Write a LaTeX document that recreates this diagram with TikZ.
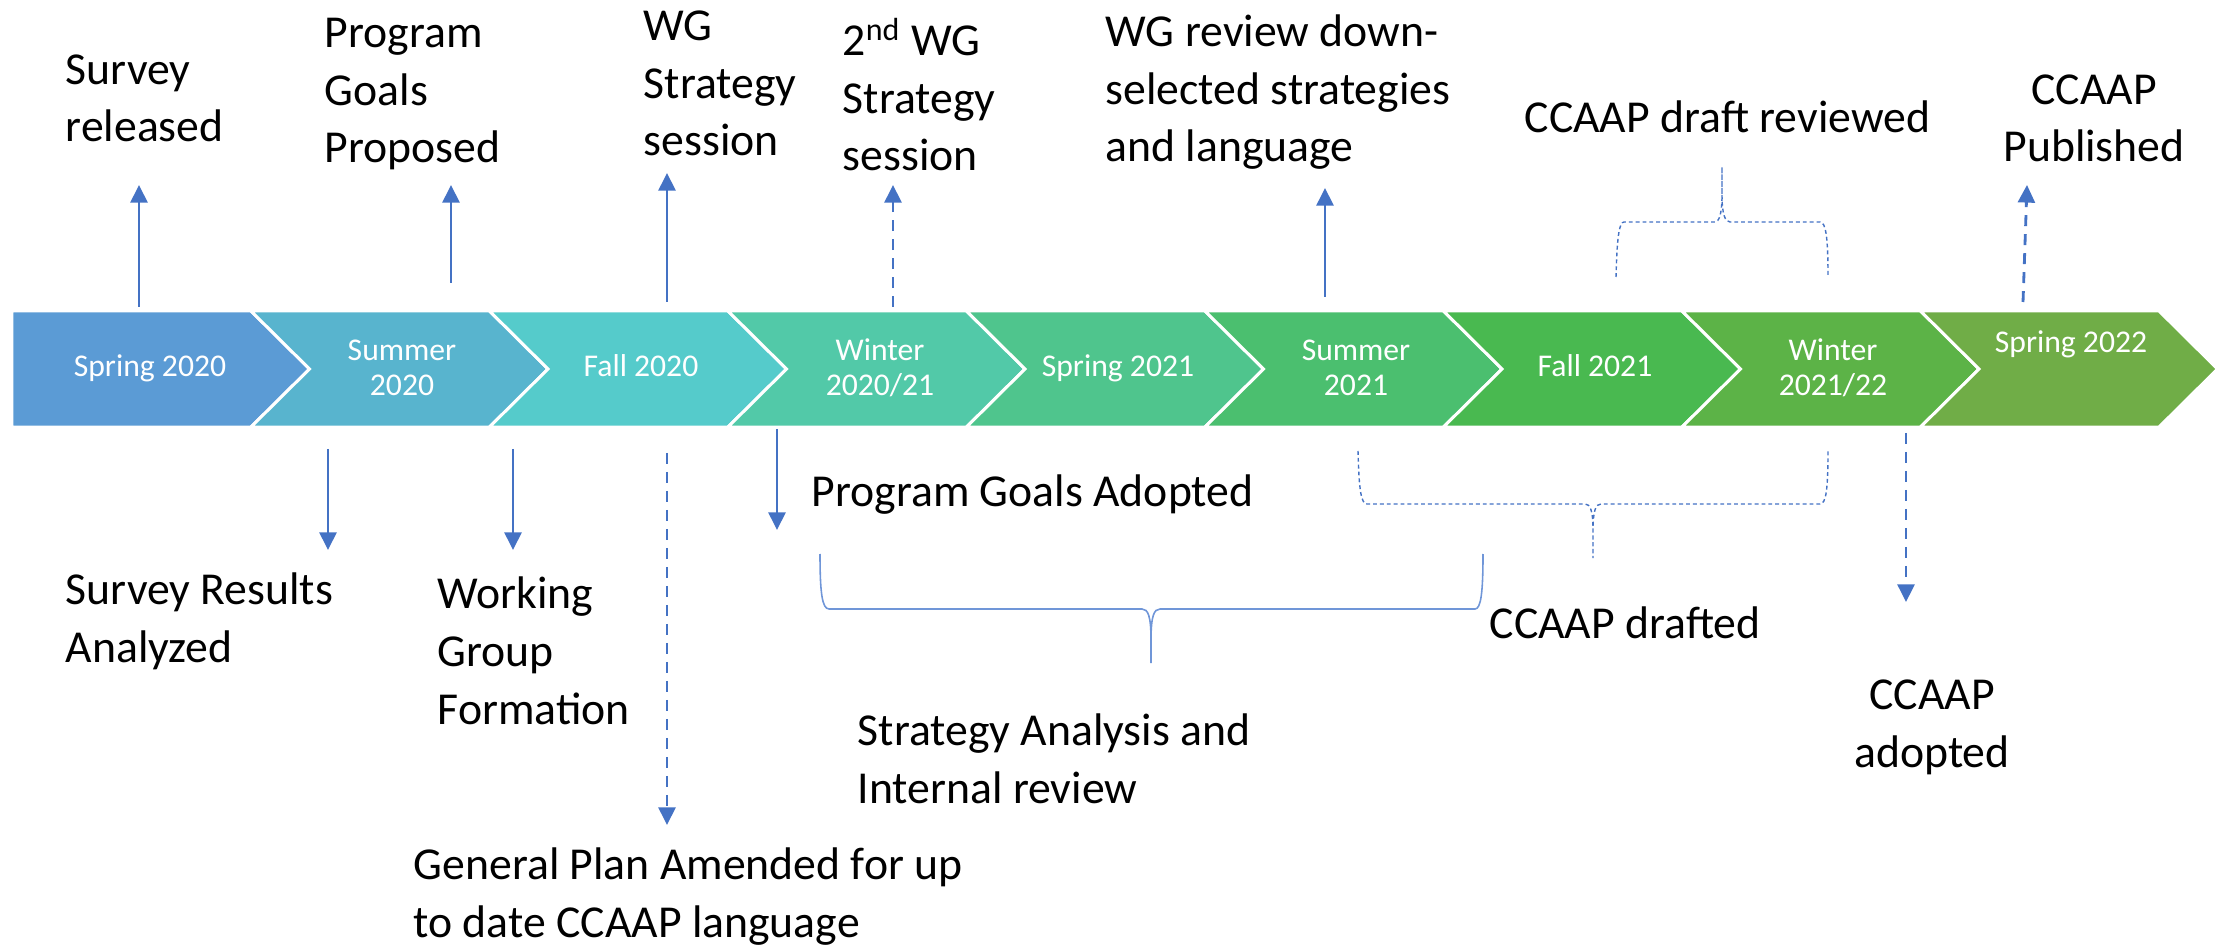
\documentclass[tikz,border=0pt]{standalone}
\usepackage{fontspec}
\setmainfont{Carlito}
\usetikzlibrary{arrows.meta}

\definecolor{evblue}{RGB}{68,114,196}
\definecolor{brblue}{RGB}{112,150,216}
\definecolor{ch1}{RGB}{91,155,213}
\definecolor{ch2}{RGB}{88,180,206}
\definecolor{ch3}{RGB}{85,203,203}
\definecolor{ch4}{RGB}{82,201,168}
\definecolor{ch5}{RGB}{79,197,141}
\definecolor{ch6}{RGB}{75,191,111}
\definecolor{ch7}{RGB}{73,185,80}
\definecolor{ch8}{RGB}{92,179,71}
\definecolor{ch9}{RGB}{112,173,71}

\tikzset{
	evt/.style={->,line width=0.8pt,evblue},
	evtdash/.style={evt,dash pattern=on 3.1pt off 2.3pt},
	brc/.style={line width=0.45pt,brblue},
	brcdot/.style={line width=0.4pt,evblue,dash pattern=on 1.1pt off 0.85pt},
	lbl/.style={inner sep=0pt,font=\fontsize{13}{16.4}\selectfont,align=left,anchor=base west},
	lblc/.style={lbl,align=center,anchor=base},
	seas/.style={inner sep=0pt,text=white,font=\fontsize{9}{10}\selectfont,align=center,anchor=base},
	chev/.style={draw=white,line width=0.85pt},
}

\begin{document}
\begin{tikzpicture}[x=0.01cm,y=-0.01cm,>={Triangle[length=5pt,width=4.8pt]}]
	\useasboundingbox (0,0) rectangle (2221,946);
	
	% season band
	\filldraw[chev,fill=ch1] (12,311) -- (251,311) -- (309.5,369) -- (251,427) -- (12,427) -- cycle;
	\filldraw[chev,fill=ch2] (251,311) -- (489.5,311) -- (548,369) -- (489.5,427) -- (251,427) -- (309.5,369) -- cycle;
	\filldraw[chev,fill=ch3] (489.5,311) -- (728,311) -- (786.5,369) -- (728,427) -- (489.5,427) -- (548,369) -- cycle;
	\filldraw[chev,fill=ch4] (728,311) -- (966.5,311) -- (1025,369) -- (966.5,427) -- (728,427) -- (786.5,369) -- cycle;
	\filldraw[chev,fill=ch5] (966.5,311) -- (1205,311) -- (1263.5,369) -- (1205,427) -- (966.5,427) -- (1025,369) -- cycle;
	\filldraw[chev,fill=ch6] (1205,311) -- (1443.5,311) -- (1502,369) -- (1443.5,427) -- (1205,427) -- (1263.5,369) -- cycle;
	\filldraw[chev,fill=ch7] (1443.5,311) -- (1682,311) -- (1740.5,369) -- (1682,427) -- (1443.5,427) -- (1502,369) -- cycle;
	\filldraw[chev,fill=ch8] (1682,311) -- (1920.5,311) -- (1979,369) -- (1920.5,427) -- (1682,427) -- (1740.5,369) -- cycle;
	\filldraw[chev,fill=ch9] (1920.5,311) -- (2159,311) -- (2217.5,369) -- (2159,427) -- (1920.5,427) -- (1979,369) -- cycle;
	
	\node[seas] (sp20) at (150,377) {Spring 2020};
	\node[seas] (su20) at (402,396) {Summer\\2020};
	\node[seas] (fa20) at (641,377) {Fall 2020};
	\node[seas] (wi20) at (880,396) {Winter\\2020/21};
	\node[seas] (sp21) at (1118,377) {Spring 2021};
	\node[seas] (su21) at (1356,396) {Summer\\2021};
	\node[seas] (fa21) at (1595,377) {Fall 2021};
	\node[seas] (wi21) at (1833,396) {Winter\\2021/22};
	\node[seas] (sp22) at (2071,353) {Spring 2022};
	
	% milestones above
	\node[lbl] (srvRel) at (65,142) {Survey\\released};
	\node[lbl] (pgProp) at (324,163) {Program\\Goals\\Proposed};
	\node[lbl] (wgSes) at (643,156) {WG\\Strategy\\session};
	\node[lbl] (wgSes2) at (842,171) {2\textsuperscript{nd} WG\\Strategy\\session};
	\node[lbl] (wgRev) at (1105,162) {WG review down-\\selected strategies\\and language};
	\node[lbl] (drRev) at (1524,133) {CCAAP draft reviewed};
	\node[lblc] (pub) at (2094,162) {CCAAP\\Published};
	
	% milestones below
	\node[lbl] (srvRes) at (65,662) {Survey Results\\Analyzed};
	\node[lbl] (wgForm) at (437,724) {Working\\Group\\Formation};
	\node[lbl] (genPlan) at (413,937) {General Plan Amended for up\\to date CCAAP language};
	\node[lbl] (pgAdopt) at (811,507) {Program Goals Adopted};
	\node[lbl] (strAna) at (857,803) {Strategy Analysis and\\Internal review};
	\node[lbl] (drafted) at (1489,638) {CCAAP drafted};
	\node[lblc] (adopt) at (1932,767) {CCAAP\\adopted};
	
	\coordinate (srvRelA) at (139,307);
	\coordinate (srvRelB) at (139,185);
	\coordinate (pgPropA) at (451,283);
	\coordinate (pgPropB) at (451,185);
	\coordinate (wgSesA) at (667,302);
	\coordinate (wgSesB) at (667,173);
	\coordinate (wgSes2A) at (893,307);
	\coordinate (wgSes2B) at (893,185);
	\coordinate (wgRevA) at (1325,297);
	\coordinate (wgRevB) at (1325,188);
	\coordinate (pubA) at (2023,302);
	\coordinate (pubB) at (2027,185);
	\coordinate (srvResA) at (328,449);
	\coordinate (srvResB) at (328,550);
	\coordinate (wgFormA) at (513,449);
	\coordinate (wgFormB) at (513,550);
	\coordinate (genPlanA) at (667,453);
	\coordinate (genPlanB) at (667,825);
	\coordinate (pgAdoptA) at (777,429);
	\coordinate (pgAdoptB) at (777,530);
	\coordinate (adoptA) at (1906,433);
	\coordinate (adoptB) at (1906,602);
	
	\draw[evt] (srvRelA) -- (srvRelB);
	\draw[evt] (pgPropA) -- (pgPropB);
	\draw[evt] (wgSesA) -- (wgSesB);
	\draw[evtdash] (wgSes2A) -- (wgSes2B);
	\draw[evt] (wgRevA) -- (wgRevB);
	\draw[evtdash] (pubA) -- (pubB);
	\draw[evt] (srvResA) -- (srvResB);
	\draw[evt] (wgFormA) -- (wgFormB);
	\draw[evtdash] (genPlanA) -- (genPlanB);
	\draw[evt] (pgAdoptA) -- (pgAdoptB);
	\draw[evtdash] (adoptA) -- (adoptB);
	
	% braces
	\draw[brc] (820,554) .. controls (820,592) and (822,609) .. (829,609) -- (1142,609)
		.. controls (1148,609) and (1151,616) .. (1151,640) -- (1151,663) -- (1151,640)
		.. controls (1151,616) and (1154,609) .. (1160,609) -- (1475,609)
		.. controls (1481,609) and (1483,592) .. (1483,554);
	\draw[brcdot] (1358,451) .. controls (1359,490) and (1361,504) .. (1367,504) -- (1585,504)
		.. controls (1590,504) and (1593,510) .. (1593,530) -- (1593,558) -- (1593,530)
		.. controls (1593,510) and (1596,504) .. (1601,504) -- (1820,504)
		.. controls (1826,504) and (1828,490) .. (1828,450);
	\draw[brcdot] (1616,277) .. controls (1617,238) and (1619,222) .. (1624,222) -- (1715,222)
		.. controls (1719,222) and (1722,214) .. (1722,195) -- (1722,167) -- (1722,195)
		.. controls (1722,214) and (1725,222) .. (1730,222) -- (1820,222)
		.. controls (1826,222) and (1828,238) .. (1828,277);
\end{tikzpicture}
\end{document}
